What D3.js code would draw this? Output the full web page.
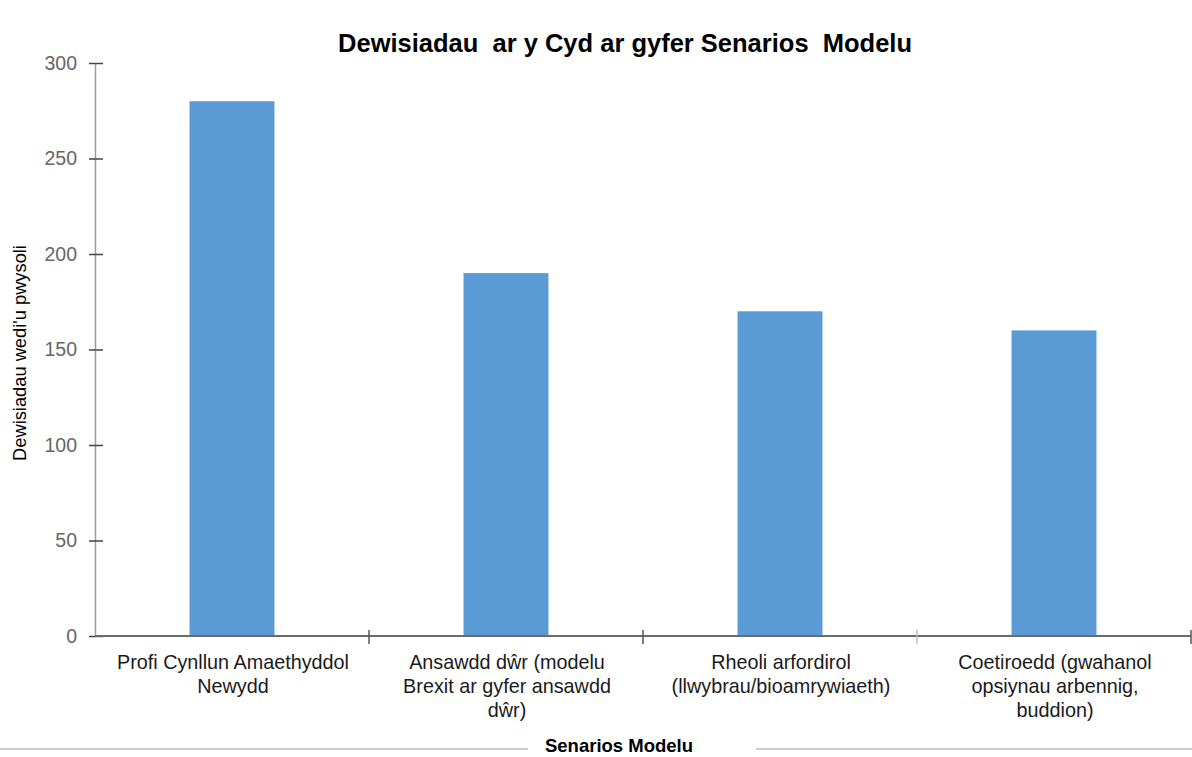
<!DOCTYPE html>
<html>
<head>
<meta charset="utf-8">
<script src="https://cdn.jsdelivr.net/npm/d3@7"></script>
<style>
  html, body { margin: 0; padding: 0; background: #fff; }
  svg { display: block; font-family: Arial, "Liberation Sans", sans-serif; }
</style>
</head>
<body>
<svg id="chart" width="1192" height="757"></svg>
<script>
// Chart content
const chartTitle = "Dewisiadau  ar y Cyd ar gyfer Senarios  Modelu";
const yAxisTitle = "Dewisiadau wedi'u pwysoli";
const xAxisTitle = "Senarios Modelu";
const categories = ["Profi", "Ansawdd", "Rheoli", "Coetiroedd"];
const categoryLabels = [
  ["Profi Cynllun Amaethyddol", "Newydd"],
  ["Ansawdd dŵr (modelu", "Brexit ar gyfer ansawdd", "dŵr)"],
  ["Rheoli arfordirol", "(llwybrau/bioamrywiaeth)"],
  ["Coetiroedd (gwahanol", "opsiynau arbennig,", "buddion)"]
];
const values = [280, 190, 170, 160];
const yTicks = [0, 50, 100, 150, 200, 250, 300];

const svg = d3.select("#chart");
const plotLeft = 95, plotRight = 1191, plotTop = 63, plotBottom = 636;

const x = d3.scaleBand().domain(categories).range([plotLeft, plotRight])
  .paddingInner(0.69).paddingOuter(0.345);
const xOuter = d3.scaleBand().domain(categories).range([plotLeft, plotRight]);
const y = d3.scaleLinear().domain([0, 300]).range([plotBottom, plotTop]);

// Title
svg.append("text")
  .attr("x", 625).attr("y", 52)
  .attr("text-anchor", "middle")
  .attr("font-size", 25.5).attr("font-weight", "bold")
  .attr("fill", "#000")
  .style("white-space", "pre")
  .text(chartTitle);

// Bars
svg.append("g").selectAll("rect")
  .data(values)
  .join("rect")
  .attr("x", (d, i) => x(categories[i]))
  .attr("y", d => y(d))
  .attr("width", x.bandwidth())
  .attr("height", d => y(0) - y(d))
  .attr("fill", "#5b9bd5");

// Y axis
const yAxis = svg.append("g").attr("transform", `translate(${plotLeft},0)`)
  .call(d3.axisLeft(y).tickValues(yTicks).tickSize(0).tickPadding(18));
yAxis.select(".domain").attr("stroke", "#9a9a9a").attr("stroke-width", 1.5);
yAxis.selectAll(".tick text")
  .attr("font-size", 19.5).attr("fill", "#666")
  .attr("font-family", "Arial, 'Liberation Sans', sans-serif");
yAxis.selectAll(".tick").append("line")
  .attr("x1", -6).attr("x2", 8)
  .attr("stroke", "#444").attr("stroke-width", 1.5);

// X axis baseline with category separators
const xAxis = svg.append("g").attr("transform", `translate(0,${plotBottom})`);
xAxis.append("line")
  .attr("x1", plotLeft).attr("x2", plotRight)
  .attr("stroke", "#6b6b6b").attr("stroke-width", 2);
xAxis.selectAll("line.sep")
  .data(categories)
  .join("line")
  .attr("class", "sep")
  .attr("x1", d => xOuter(d) + xOuter.bandwidth())
  .attr("x2", d => xOuter(d) + xOuter.bandwidth())
  .attr("y1", -6).attr("y2", 8)
  .attr("stroke", (d, i) => i === 2 ? "#bbb" : "#555")
  .attr("stroke-width", 1.5);

// Category labels
const labelGroups = svg.append("g").selectAll("text")
  .data(categoryLabels)
  .join("text")
  .attr("text-anchor", "middle")
  .attr("font-size", 19.8)
  .attr("fill", "#1a1a1a")
  .attr("x", (d, i) => xOuter(categories[i]) + xOuter.bandwidth() / 2 + 1)
  .attr("y", 669);
labelGroups.selectAll("tspan")
  .data((d, i) => d.map(t => ({ t, i })))
  .join("tspan")
  .attr("x", d => xOuter(categories[d.i]) + xOuter.bandwidth() / 2 + 1)
  .attr("dy", (d, j) => j === 0 ? 0 : 24)
  .text(d => d.t);

// Y axis title
svg.append("text")
  .attr("transform", "translate(26,353) rotate(-90)")
  .attr("text-anchor", "middle")
  .attr("font-size", 18.3)
  .attr("fill", "#000")
  .text(yAxisTitle);

// Bottom rule and x axis title
svg.append("line").attr("x1", 0).attr("x2", 528).attr("y1", 749).attr("y2", 749)
  .attr("stroke", "#bbb").attr("stroke-width", 1.5);
svg.append("line").attr("x1", 756).attr("x2", 1192).attr("y1", 749).attr("y2", 749)
  .attr("stroke", "#bbb").attr("stroke-width", 1.5);
svg.append("text")
  .attr("x", 619).attr("y", 752)
  .attr("text-anchor", "middle")
  .attr("font-size", 18.5).attr("font-weight", "bold")
  .attr("fill", "#000")
  .text(xAxisTitle);
</script>
</body>
</html>
